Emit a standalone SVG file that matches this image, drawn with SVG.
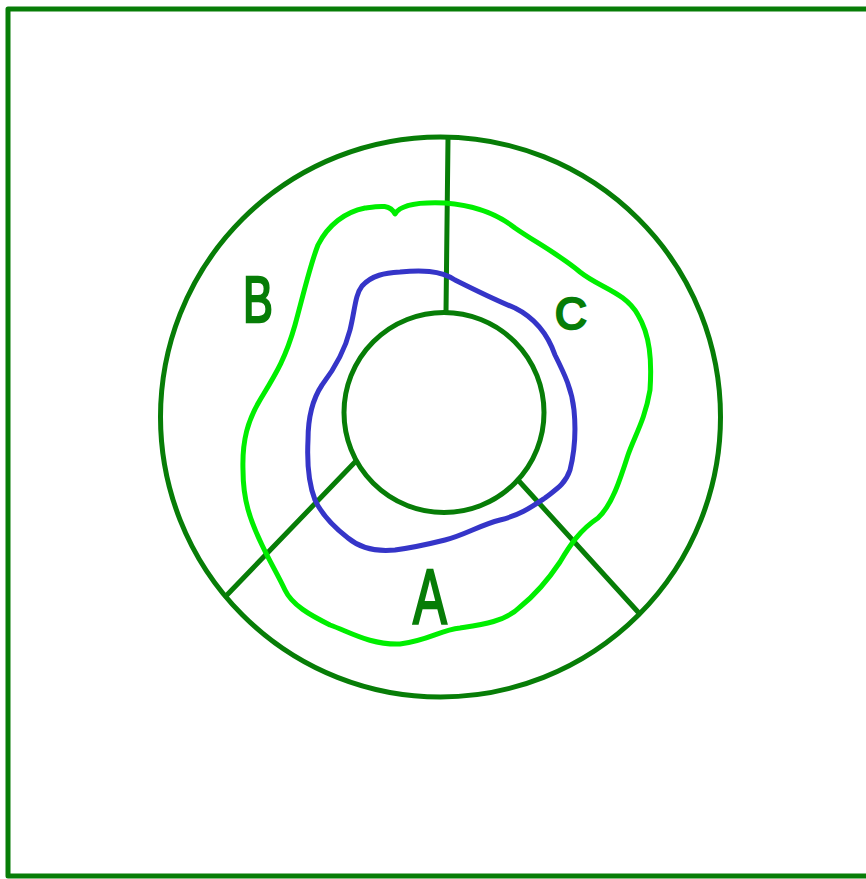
<svg xmlns="http://www.w3.org/2000/svg" width="866" height="879" viewBox="0 0 866 879">
<style>
.dg{fill:none;stroke:#077d07;stroke-width:5;stroke-linecap:round;stroke-linejoin:round}
.lbl{font-family:"Liberation Sans",Arial,sans-serif;fill:#077d07;stroke:#077d07;stroke-width:2.5;text-anchor:middle}
</style>
<rect width="866" height="879" fill="#ffffff"/>
<g id="frame"><rect class="dg" x="8" y="9" width="880" height="867" stroke-linecap="butt"/></g>
<g id="outer-circle"><circle class="dg" cx="440.5" cy="417" r="280"/></g>
<g id="inner-circle"><circle class="dg" cx="444" cy="412.5" r="100"/></g>
<g id="connectors">
<line class="dg" x1="448" y1="139" x2="446" y2="312"/>
<line class="dg" x1="356" y1="461" x2="226" y2="596"/>
<line class="dg" x1="518" y1="480" x2="638" y2="612"/>
</g>
<g id="green-contour"><path fill="none" stroke="#00ee00" stroke-width="5" stroke-linecap="round" stroke-linejoin="round" d="M395,214 C400,205 420,202 445,203 C470,205 495,212 515,228 C535,242 560,255 580,272 C600,288 625,292 638,315 C650,335 652,360 650,390 C645,420 635,435 628,455 C620,480 612,505 598,518 C580,530 570,545 560,562 C548,580 535,595 520,607 C505,622 480,625 460,628 C440,630 430,640 400,644 C370,645 350,632 330,625 C310,615 292,605 285,590 C278,575 270,562 262,545 C250,520 243,500 243,470 C242,440 248,420 260,400 C275,375 285,360 295,325 C302,300 310,265 318,245 C328,225 345,212 365,208 C380,206 390,204 395,214 Z"/></g>
<g id="blue-contour"><path fill="none" stroke="#3535c8" stroke-width="5" stroke-linecap="round" stroke-linejoin="round" d="M400,272 C420,270 440,270 455,280 C475,290 495,300 515,308 C535,318 548,335 555,355 C565,375 572,390 574,410 C576,430 575,450 570,470 C565,485 555,490 545,498 C530,508 520,515 500,520 C480,525 465,535 445,540 C425,545 410,548 395,550 C375,552 360,548 348,538 C335,528 322,515 315,500 C308,482 307,460 308,440 C308,420 312,400 322,385 C335,368 345,350 350,330 C355,310 355,295 362,286 C372,275 385,273 400,272 Z"/></g>
<g id="label-B"><text class="lbl" x="258" y="322" font-size="64" transform="translate(258 0) scale(0.7 1) translate(-258 0)">B</text></g>
<g id="label-C"><text class="lbl" x="571" y="329" font-size="44">C</text></g>
<g id="label-A"><text class="lbl" x="430" y="624" font-size="78" transform="translate(430 0) scale(0.65 1) translate(-430 0)">A</text></g>
</svg>
